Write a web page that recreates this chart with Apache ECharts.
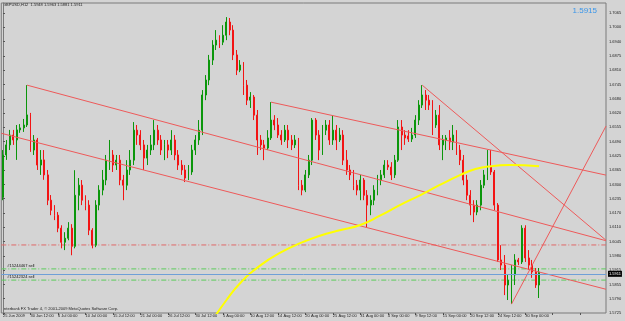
<!DOCTYPE html>
<html>
<head>
<meta charset="utf-8">
<script src="https://cdn.jsdelivr.net/npm/echarts@6/dist/echarts.min.js"></script>
<style>
  html, body { margin: 0; padding: 0; background: #d4d4d4; }
  #chart { width: 625px; height: 321px; }
</style>
</head>
<body>
<div id="chart"></div>
<script>
const TITLE = "GBPUSD,H12  1.5948 1.5963 1.5881 1.5911";
const COPYRIGHT = "Interbank FX Trader 4, \u00a9 2001-2009 MetaQuotes Software Corp.";
const BIG_PRICE = "1.5915";

const X_LABELS = ["25 Jun 2009", "30 Jun 12:00", "6 Jul 00:00", "10 Jul 00:00", "15 Jul 12:00",
  "21 Jul 00:00", "26 Jul 12:00", "30 Jul 12:00", "5 Aug 00:00", "10 Aug 12:00", "14 Aug 12:00",
  "20 Aug 00:00", "25 Aug 12:00", "31 Aug 00:00", "4 Sep 00:00", "9 Sep 12:00", "15 Sep 00:00",
  "20 Sep 12:00", "24 Sep 12:00", "30 Sep 00:00"];
const Y_LABELS = ["1.5725", "1.5790", "1.5855", "1.5915", "1.5980", "1.6045", "1.6110", "1.6170",
  "1.6235", "1.6300", "1.6365", "1.6425", "1.6490", "1.6555", "1.6620", "1.6680", "1.6745",
  "1.6810", "1.6875", "1.6940", "1.7000", "1.7065"];

const OPENS = [
  1.6243, 1.6431, 1.6476, 1.6520, 1.6498, 1.6543, 1.6552, 1.6565, 1.6610, 1.6453,
  1.6498, 1.6386, 1.6409, 1.6342, 1.6229, 1.6184, 1.6162, 1.6104, 1.6041, 1.6059,
  1.6104, 1.6023, 1.6251, 1.6296, 1.6229, 1.6207, 1.6095, 1.6028, 1.6207, 1.6274,
  1.6319, 1.6408, 1.6431, 1.6386, 1.6408, 1.6319, 1.6296, 1.6364, 1.6408, 1.6542,
  1.6520, 1.6476, 1.6417, 1.6453, 1.6476, 1.6542, 1.6498, 1.6453, 1.6476, 1.6453,
  1.6498, 1.6431, 1.6386, 1.6364, 1.6328, 1.6355, 1.6453, 1.6498, 1.6542, 1.6699,
  1.6766, 1.6855, 1.6922, 1.6944, 1.6935, 1.6966, 1.7025, 1.6989, 1.6878, 1.6810,
  1.6833, 1.6743, 1.6676, 1.6690, 1.6609, 1.6498, 1.6476, 1.6462, 1.6507, 1.6587,
  1.6565, 1.6520, 1.6498, 1.6542, 1.6498, 1.6476, 1.6498, 1.6296, 1.6274, 1.6342,
  1.6408, 1.6587, 1.6520, 1.6453, 1.6542, 1.6565, 1.6498, 1.6542, 1.6498, 1.6520,
  1.6408, 1.6364, 1.6342, 1.6296, 1.6274, 1.6319, 1.6251, 1.6207, 1.6229, 1.6274,
  1.6319, 1.6342, 1.6386, 1.6377, 1.6342, 1.6408, 1.6556, 1.6520, 1.6516, 1.6502,
  1.6520, 1.6587, 1.6654, 1.6699, 1.6676, 1.6654, 1.6565, 1.6609, 1.6476, 1.6498,
  1.6507, 1.6489, 1.6520, 1.6453, 1.6408, 1.6319, 1.6251, 1.6207, 1.6176, 1.6207,
  1.6296, 1.6342, 1.6377, 1.6355, 1.6207, 1.5962, 1.5939, 1.5850, 1.5872, 1.5895,
  1.5962, 1.5953, 1.6104, 1.5971, 1.5939, 1.5908, 1.5850
];
const CLOSES = [
  1.6431, 1.6476, 1.6520, 1.6498, 1.6543, 1.6552, 1.6565, 1.6610, 1.6453, 1.6498,
  1.6386, 1.6409, 1.6342, 1.6229, 1.6184, 1.6162, 1.6104, 1.6041, 1.6059, 1.6104,
  1.6023, 1.6251, 1.6296, 1.6229, 1.6207, 1.6095, 1.6028, 1.6207, 1.6274, 1.6319,
  1.6408, 1.6431, 1.6386, 1.6408, 1.6319, 1.6296, 1.6364, 1.6408, 1.6542, 1.6520,
  1.6476, 1.6417, 1.6453, 1.6476, 1.6542, 1.6498, 1.6453, 1.6476, 1.6453, 1.6498,
  1.6431, 1.6386, 1.6364, 1.6328, 1.6355, 1.6453, 1.6498, 1.6542, 1.6699, 1.6766,
  1.6855, 1.6922, 1.6944, 1.6935, 1.6966, 1.7025, 1.6989, 1.6878, 1.6810, 1.6833,
  1.6743, 1.6676, 1.6690, 1.6609, 1.6498, 1.6476, 1.6462, 1.6507, 1.6587, 1.6565,
  1.6520, 1.6498, 1.6542, 1.6498, 1.6476, 1.6498, 1.6296, 1.6274, 1.6342, 1.6408,
  1.6587, 1.6520, 1.6453, 1.6542, 1.6565, 1.6498, 1.6542, 1.6498, 1.6520, 1.6408,
  1.6364, 1.6342, 1.6296, 1.6274, 1.6319, 1.6251, 1.6207, 1.6229, 1.6274, 1.6319,
  1.6342, 1.6386, 1.6377, 1.6342, 1.6408, 1.6556, 1.6520, 1.6507, 1.6502, 1.6520,
  1.6587, 1.6654, 1.6699, 1.6676, 1.6654, 1.6565, 1.6609, 1.6476, 1.6498, 1.6507,
  1.6489, 1.6520, 1.6453, 1.6408, 1.6319, 1.6251, 1.6207, 1.6176, 1.6207, 1.6296,
  1.6342, 1.6377, 1.6355, 1.6207, 1.5962, 1.5939, 1.5850, 1.5872, 1.5895, 1.5962,
  1.5953, 1.6104, 1.5971, 1.5939, 1.5908, 1.5850, 1.5908
];
const LOWS = [
  1.6229, 1.6409, 1.6453, 1.6476, 1.6409, 1.6530, 1.6534, 1.6556, 1.6445, 1.6431,
  1.6364, 1.6342, 1.6320, 1.6207, 1.6162, 1.6140, 1.6086, 1.6014, 1.6006, 1.6050,
  1.5983, 1.6014, 1.6184, 1.6207, 1.6184, 1.6073, 1.6014, 1.6019, 1.6184, 1.6251,
  1.6296, 1.6364, 1.6355, 1.6364, 1.6296, 1.6229, 1.6274, 1.6342, 1.6386, 1.6476,
  1.6453, 1.6364, 1.6386, 1.6431, 1.6453, 1.6476, 1.6431, 1.6408, 1.6417, 1.6431,
  1.6408, 1.6364, 1.6342, 1.6310, 1.6319, 1.6342, 1.6431, 1.6476, 1.6520, 1.6676,
  1.6743, 1.6833, 1.6900, 1.6909, 1.6922, 1.6944, 1.6966, 1.6855, 1.6788, 1.6801,
  1.6699, 1.6654, 1.6641, 1.6587, 1.6431, 1.6453, 1.6408, 1.6453, 1.6498, 1.6542,
  1.6507, 1.6476, 1.6489, 1.6462, 1.6453, 1.6462, 1.6274, 1.6251, 1.6265, 1.6328,
  1.6386, 1.6498, 1.6408, 1.6431, 1.6520, 1.6476, 1.6476, 1.6453, 1.6489, 1.6386,
  1.6342, 1.6319, 1.6274, 1.6251, 1.6229, 1.6229, 1.6109, 1.6162, 1.6207, 1.6251,
  1.6296, 1.6328, 1.6364, 1.6319, 1.6328, 1.6400, 1.6453, 1.6476, 1.6489, 1.6489,
  1.6507, 1.6565, 1.6641, 1.6632, 1.6632, 1.6520, 1.6552, 1.6453, 1.6408, 1.6453,
  1.6453, 1.6453, 1.6431, 1.6386, 1.6296, 1.6229, 1.6162, 1.6131, 1.6162, 1.6184,
  1.6283, 1.6319, 1.6342, 1.6184, 1.5953, 1.5917, 1.5805, 1.5783, 1.5765, 1.5850,
  1.5939, 1.5944, 1.5953, 1.5917, 1.5882, 1.5837, 1.5792
];
const HIGHS = [
  1.6453, 1.6498, 1.6543, 1.6543, 1.6565, 1.6569, 1.6592, 1.6743, 1.6619, 1.6520,
  1.6507, 1.6453, 1.6453, 1.6364, 1.6252, 1.6207, 1.6176, 1.6117, 1.6086, 1.6131,
  1.6122, 1.6363, 1.6328, 1.6319, 1.6251, 1.6229, 1.6104, 1.6229, 1.6296, 1.6364,
  1.6431, 1.6498, 1.6453, 1.6431, 1.6431, 1.6342, 1.6408, 1.6453, 1.6578, 1.6565,
  1.6542, 1.6498, 1.6476, 1.6520, 1.6587, 1.6565, 1.6520, 1.6498, 1.6498, 1.6542,
  1.6520, 1.6453, 1.6408, 1.6386, 1.6386, 1.6476, 1.6520, 1.6587, 1.6721, 1.6788,
  1.6878, 1.6944, 1.6989, 1.6966, 1.7011, 1.7047, 1.7043, 1.7011, 1.6900, 1.6855,
  1.6846, 1.6766, 1.6712, 1.6699, 1.6632, 1.6520, 1.6498, 1.6542, 1.6667, 1.6609,
  1.6596, 1.6542, 1.6565, 1.6565, 1.6520, 1.6520, 1.6507, 1.6319, 1.6364, 1.6431,
  1.6596, 1.6596, 1.6542, 1.6565, 1.6587, 1.6587, 1.6609, 1.6565, 1.6552, 1.6542,
  1.6453, 1.6386, 1.6364, 1.6319, 1.6342, 1.6328, 1.6274, 1.6251, 1.6296, 1.6342,
  1.6364, 1.6408, 1.6408, 1.6399, 1.6431, 1.6587, 1.6587, 1.6542, 1.6542, 1.6552,
  1.6609, 1.6676, 1.6743, 1.6721, 1.6699, 1.6676, 1.6632, 1.6654, 1.6520, 1.6520,
  1.6542, 1.6565, 1.6542, 1.6476, 1.6431, 1.6342, 1.6274, 1.6229, 1.6229, 1.6319,
  1.6364, 1.6453, 1.6453, 1.6364, 1.6216, 1.6028, 1.5984, 1.5895, 1.5939, 1.5988,
  1.5971, 1.6117, 1.6117, 1.6006, 1.5962, 1.5926, 1.5926
];

// trend lines drawn on the chart: [barIndex, price] pairs
const TREND_LINES = [
  [[7, 1.6743], [175.5, 1.6048]],
  [[-0.5, 1.6528], [175.5, 1.5831]],
  [[78, 1.6667], [175.5, 1.6341]],
  [[122, 1.6743], [175.5, 1.6050]],
  [[148, 1.5765], [175.5, 1.6560]]
];
const YELLOW_CURVE = [
  [61, 1.5694], [65, 1.5782], [69, 1.5858], [75, 1.5939], [81, 1.5997], [86.5, 1.6037],
  [92, 1.6069], [98, 1.6095], [104, 1.6118], [110, 1.6162], [115.5, 1.6207], [121.5, 1.6252],
  [127, 1.6296], [133, 1.6341], [137.5, 1.6368], [142, 1.6381], [147.5, 1.6386], [156, 1.6381]
];
const RED_LEVEL = 1.6029;
const SELL_PRICES = [1.5922, 1.5872];
const SELL_LABELS = ["#15244467 sell", "#15242324 sell"];
const BID = 1.5911;

const SLOTS = 176;
const X_LEFT = -0.5;
const X_RIGHT = SLOTS - 0.5;
const Y_MIN = 1.5725;
const Y_MAX = 1.7110;
const Y_STEP = (1.7065 - 1.5725) / 21;

const BULL = "#0b960b";
const BEAR = "#f21414";
const LINE_RED = "#ee5a5a";
const FONT = "Liberation Sans, Arial, sans-serif";
const DASH_DOT = [5, 2, 1, 2];

const categories = Array.from({ length: SLOTS }, (_, i) => i);
const candles = OPENS.map((o, i) => [o, CLOSES[i], LOWS[i], HIGHS[i]]);

// a horizontal level drawn edge to edge as a two-point line on the bar-index axis
function levelSeries(price, color, type, text) {
  const first = { value: [X_LEFT, price] };
  if (text) {
    first.symbol = "circle";
    first.symbolSize = 0.1;
    first.label = {
      show: true, position: "right", formatter: text, offset: [1, -3],
      color: "#111", fontSize: 4, fontFamily: FONT
    };
  }
  return {
    type: "line",
    xAxisIndex: 1,
    z: 2,
    silent: true,
    symbol: "none",
    showSymbol: true,
    data: [first, [X_RIGHT, price]],
    lineStyle: { color, type, width: 1 }
  };
}

const series = [
  {
    type: "candlestick",
    xAxisIndex: 0,
    data: candles,
    barWidth: 1.4,
    z: 3,
    itemStyle: {
      color: BULL, color0: BEAR, borderColor: BULL, borderColor0: BEAR, borderWidth: 1
    },
    markLine: {
      silent: true,
      symbol: "none",
      animation: false,
      lineStyle: { color: "#6f9fd8", type: "solid", width: 1 },
      label: {
        show: true, position: "end", formatter: BID.toFixed(4),
        color: "#fff", backgroundColor: "#000", fontSize: 4, fontFamily: FONT,
        padding: [1, 1, 1, 1], distance: 2
      },
      data: [{ yAxis: BID }]
    }
  },
  levelSeries(RED_LEVEL, "#e06a6a", DASH_DOT),
  levelSeries(SELL_PRICES[0], "#5ccc5c", DASH_DOT, SELL_LABELS[0]),
  levelSeries(SELL_PRICES[1], "#5ccc5c", DASH_DOT, SELL_LABELS[1]),
  ...TREND_LINES.map((pts) => ({
    type: "line",
    xAxisIndex: 1,
    z: 4,
    data: pts,
    symbol: "none",
    silent: true,
    lineStyle: { color: LINE_RED, width: 1 }
  })),
  {
    type: "line",
    xAxisIndex: 1,
    z: 4,
    data: YELLOW_CURVE,
    smooth: true,
    symbol: "none",
    silent: true,
    lineStyle: { color: "#ffff00", width: 2 }
  }
];

const chart = echarts.init(document.getElementById("chart"), null, { renderer: "canvas" });
chart.setOption({
  animation: false,
  backgroundColor: "#d4d4d4",
  textStyle: { fontFamily: FONT },
  grid: {
    left: 1, right: 19, top: 3, bottom: 8,
    show: true, borderColor: "#7a7a7a", borderWidth: 1, backgroundColor: "#d4d4d4"
  },
  xAxis: [
    {
      type: "category",
      data: categories,
      boundaryGap: true,
      axisLine: { show: false },
      axisTick: { show: true, interval: 7, alignWithLabel: true, length: 2, lineStyle: { color: "#555" } },
      axisLabel: {
        interval: 7, margin: 1, align: "left", fontSize: 4, color: "#222", fontFamily: FONT,
        formatter: (v, i) => (i % 8 === 0 && X_LABELS[i / 8]) ? X_LABELS[i / 8] : ""
      },
      splitLine: { show: false }
    },
    { type: "value", min: X_LEFT, max: X_RIGHT, show: false }
  ],
  yAxis: {
    type: "value",
    position: "right",
    min: Y_MIN,
    max: Y_MAX,
    interval: Y_STEP,
    axisLine: { show: true, lineStyle: { color: "#7a7a7a" } },
    axisTick: { show: true, length: 2, lineStyle: { color: "#555" } },
    axisLabel: {
      margin: 3, fontSize: 4, color: "#222", fontFamily: FONT, showMaxLabel: false,
      formatter: (v, i) => Y_LABELS[i] || ""
    },
    splitLine: { show: false }
  },
  graphic: [
    { type: "text", left: 3, top: 3, style: { text: TITLE, fontSize: 4, fill: "#222", fontFamily: FONT } },
    { type: "text", left: 3, top: 307, style: { text: COPYRIGHT, fontSize: 4, fill: "#222", fontFamily: FONT } },
    { type: "text", right: 28, top: 7, style: { text: BIG_PRICE, fontSize: 8, fill: "#3a96ea", fontFamily: FONT } }
  ],
  series
});
</script>
</body>
</html>
